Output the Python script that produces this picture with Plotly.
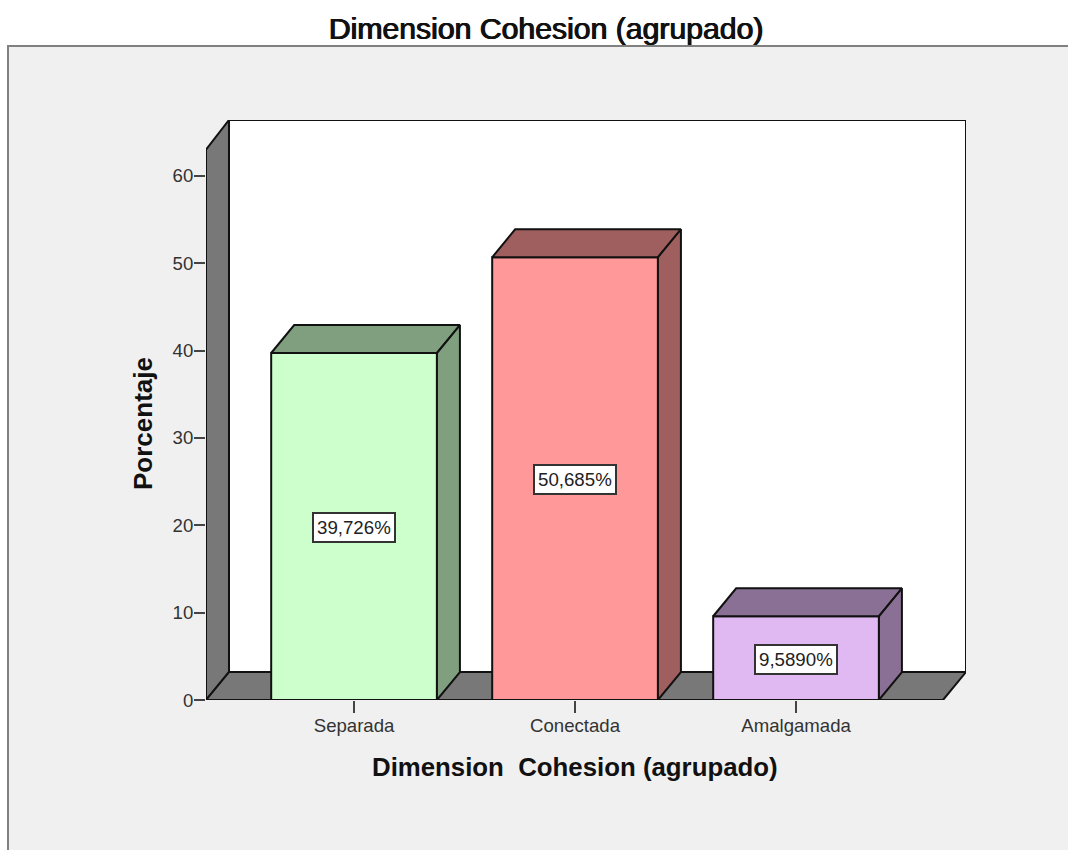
import plotly.graph_objects as go

categories = ["Separada", "Conectada", "Amalgamada"]
values = [39.726, 50.685, 9.589]
labels = ["39,726%", "50,685%", "9,5890%"]
front_colors = ["#ccffcc", "#ff9999", "#e0b8f2"]
side_colors = ["#7f9f7f", "#9f5f5f", "#8a7095"]
y_ticks = [0, 10, 20, 30, 40, 50, 60]

# geometria del grafico 3D
X_MIN, X_MAX = -0.67, 2.769
Y_MAX = 66.4
WALL_TOP = 63.0
BAR_W = 0.75
DX = 0.104
DY = 3.2
FONT = "Liberation Sans"


def px_x(p):
    return (p - 206) / 760


def px_y(p):
    return (700 - p) / 580


fig = go.Figure()

# caras frontales
fig.add_trace(go.Bar(x=[0, 1, 2], y=values, width=BAR_W, marker=dict(color=front_colors, line=dict(color="#111111", width=2)), showlegend=False))

# caras superior y lateral
for i, v in enumerate(values):
    x0, x1 = i - BAR_W / 2, i + BAR_W / 2
    fig.add_trace(go.Scatter(x=[x0, x0 + DX, x1 + DX, x1, x0], y=[v, v + DY, v + DY, v, v], fill="toself", fillcolor=side_colors[i],
                             mode="lines", line=dict(color="#111111", width=2), showlegend=False))
    fig.add_trace(go.Scatter(x=[x1, x1 + DX, x1 + DX, x1, x1], y=[0, DY, v + DY, v, 0], fill="toself", fillcolor=side_colors[i],
                             mode="lines", line=dict(color="#111111", width=2), showlegend=False))
    fig.add_annotation(x=i, y=v / 2, text=labels[i], showarrow=False, bgcolor="white", bordercolor="#333333", borderwidth=2, borderpad=3,
                       yshift=-1, font=dict(family=FONT, size=18.7, color="#222222"))

# titulos de los ejes
fig.add_annotation(xref="paper", yref="paper", x=px_x(575), y=px_y(767), xanchor="center", yanchor="middle", text="Dimension  Cohesion (agrupado)", showarrow=False,
                   font=dict(family=FONT, size=25.8, color="#111111", weight="bold"))
fig.add_annotation(xref="paper", yref="paper", x=px_x(143), y=px_y(424), xanchor="center", yanchor="middle", text="Porcentaje", textangle=-90, showarrow=False,
                   font=dict(family=FONT, size=26, color="#111111", weight="bold"))

edge = dict(color="#111111", width=2)
shapes = [
    # panel de fondo
    dict(type="rect", xref="paper", yref="paper", x0=px_x(8), x1=px_x(1100), y0=px_y(900), y1=px_y(46), fillcolor="#f0f0f0", line=dict(color="#808080", width=2), layer="below"),
    # pared de fondo
    dict(type="rect", x0=X_MIN + DX, x1=X_MAX, y0=DY, y1=Y_MAX, fillcolor="white", line=edge, layer="below"),
    # pared izquierda
    dict(type="path", path=f"M {X_MIN} 0 L {X_MIN + DX} {DY} L {X_MIN + DX} {Y_MAX} L {X_MIN} {WALL_TOP} Z", fillcolor="#787878", line=edge, layer="below"),
    # piso
    dict(type="path", path=f"M {X_MIN} 0 L {X_MAX - DX} 0 L {X_MAX} {DY} L {X_MIN + DX} {DY} Z", fillcolor="#787878", line=edge, layer="below"),
]

fig.update_layout(
    width=1068, height=850, autosize=False,
    margin=dict(l=206, r=102, t=120, b=150),
    paper_bgcolor="white", plot_bgcolor="rgba(0,0,0,0)",
    font=dict(family=FONT, color="#222222"),
    shapes=shapes, showlegend=False, barmode="overlay",
    title=dict(text="Dimension Cohesion (agrupado)", font=dict(family=FONT, size=30.2, color="#111111", shadow="0.7px 0 0 #111111, -0.4px 0 0 #111111"), xref="container", x=546 / 1068, xanchor="center", yref="container", y=1 - 28 / 850, yanchor="middle"),
)
fig.update_xaxes(range=[X_MIN, X_MAX], tickvals=[0, 1, 2], ticktext=categories, ticks="outside", ticklen=12, tickwidth=2, tickcolor="#444444",
                 showgrid=False, zeroline=False, showline=False, ticklabelstandoff=-3, tickfont=dict(family=FONT, size=18.6, color="#333333"))
fig.update_yaxes(range=[0, Y_MAX], tickvals=y_ticks, ticks="outside", ticklen=11, tickwidth=2, tickcolor="#444444",
                 showgrid=False, zeroline=False, showline=False, ticklabelstandoff=-3, tickfont=dict(family=FONT, size=18.6, color="#333333"))

fig.write_html("out.html", config={"displayModeBar": False}, post_script="document.body.style.margin='0';")
